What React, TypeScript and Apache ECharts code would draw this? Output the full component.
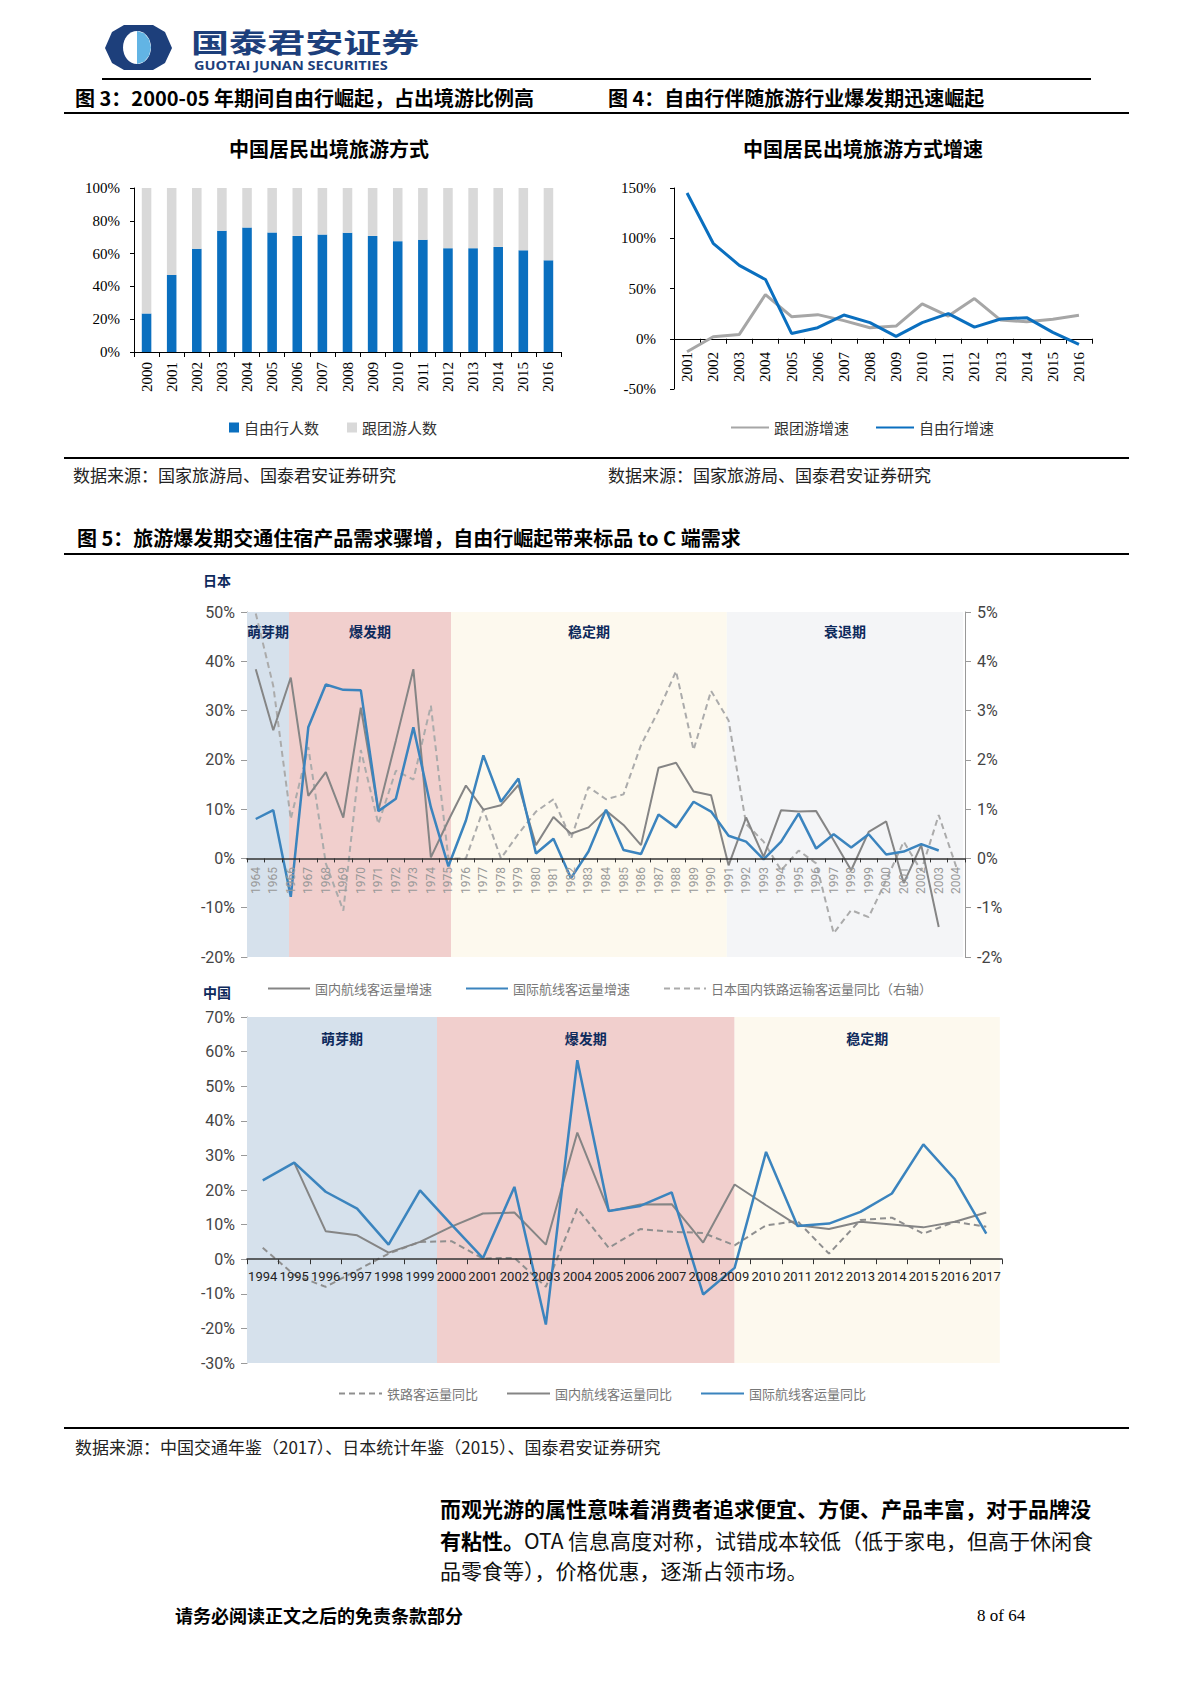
import React, { useEffect, useRef } from 'react';
import * as echarts from 'echarts';

// ---------- Figure 3 ----------
const fig3Years = ['2000','2001','2002','2003','2004','2005','2006','2007','2008','2009','2010','2011','2012','2013','2014','2015','2016'];
const fig3Free = [23.5, 47.0, 62.9, 73.9, 75.9, 72.9, 70.8, 71.6, 72.7, 70.8, 67.6, 68.4, 63.3, 63.3, 64.1, 62.0, 55.9];
const fig3Group = [76.5, 53.0, 37.1, 26.1, 24.1, 27.1, 29.2, 28.4, 27.3, 29.2, 32.4, 31.6, 36.7, 36.7, 35.9, 38.0, 44.1];

// ---------- Figure 4 ----------
const fig4Years = ['2001','2002','2003','2004','2005','2006','2007','2008','2009','2010','2011','2012','2013','2014','2015','2016'];
const fig4Group = [-13, 2, 4.3, 44, 22, 24, 18, 11, 12.6, 34.6, 22.6, 40, 18.6, 17, 19.3, 23.3];
const fig4Free = [145, 95, 73, 59, 5.3, 11, 23.6, 16, 2.3, 16, 25, 11.6, 19.6, 21, 6.3, -5.7];

// ---------- Figure 5: Japan ----------
const jpYears = ['1964','1965','1966','1967','1968','1969','1970','1971','1972','1973','1974','1975','1976','1977','1978','1979','1980','1981','1982','1983','1984','1985','1986','1987','1988','1989','1990','1991','1992','1993','1994','1995','1996','1997','1998','1999','2000','2001','2002','2003','2004'];
const jpDomestic = [38.4, 26.0, 36.7, 12.7, 17.5, 8.3, 30.6, 9.7, 23.9, 38.4, 0.2, 7.7, 14.8, 9.9, 10.8, 14.9, 2.7, 8.4, 5.0, 6.3, 9.7, 6.8, 2.7, 18.4, 19.4, 13.6, 12.8, -1.4, 8.3, 0.3, 9.8, 9.5, 9.6, 3.7, -2.4, 5.4, 7.5, -5.0, 2.7, -13.9, null];
const jpIntl = [8.0, 9.8, -7.8, 26.6, 35.3, 34.2, 34.1, 9.6, 12.1, 26.6, 10.4, -1.6, 7.7, 20.9, 11.5, 16.2, 1.0, 4.0, -4.0, 1.4, 9.9, 1.7, 0.9, 8.9, 6.3, 11.5, 9.5, 4.6, 3.4, -0.2, 3.4, 9.1, 2.0, 4.9, 2.2, 4.9, 0.8, 1.4, 2.9, 1.6, null];
const jpRail = [4.97, 3.5, 0.8, 2.26, -0.1, -1.06, 2.2, 0.7, 1.78, 1.6, 3.1, 0.0, 0.0, 1.0, 0.0, 0.5, 0.95, 1.2, 0.4, 1.45, 1.2, 1.3, 2.3, 3.0, 3.8, 2.2, 3.4, 2.8, 0.7, 0.34, -0.24, 0.16, -0.1, -1.52, -1.05, -1.19, -0.44, 0.34, -0.25, 0.88, -0.17];
const jpPhaseNames = ['萌芽期', '爆发期', '稳定期', '衰退期'];
const jpPhaseEdges = [0, 2.4, 11.65, 27.4, 40.9];

// ---------- Figure 5: China ----------
const cnYears = ['1994','1995','1996','1997','1998','1999','2000','2001','2002','2003','2004','2005','2006','2007','2008','2009','2010','2011','2012','2013','2014','2015','2016','2017'];
const cnRail = [3.3, -4.5, -8.0, -3.2, 1.6, 5.0, 5.2, 0.2, 0.4, -8.0, 14.7, 3.3, 8.7, 7.9, 7.6, 4.0, 9.8, 11.0, 1.6, 11.3, 12.0, 7.4, 10.8, 9.4];
const cnDomestic = [null, 27.9, 8.1, 6.9, 1.9, 5.0, 9.4, 13.2, 13.5, 4.2, 36.6, 13.9, 15.8, 15.9, 4.8, 21.6, 15.6, 9.8, 8.7, 10.8, 10.0, 9.2, 10.8, 13.5];
const cnIntl = [22.8, 27.9, 19.5, 14.6, 4.2, 19.9, 10.0, 0.3, 20.9, -18.9, 57.5, 13.9, 15.4, 19.3, -10.2, -2.5, 31.0, 9.6, 10.3, 13.7, 19.0, 33.2, 23.1, 7.4];
const cnPhaseNames = ['萌芽期', '爆发期', '稳定期'];
const cnPhaseEdges = [0, 6.04, 15.5, 23.93];

const phaseColors: Record<string, string> = {
  '萌芽期': '#D6E1EC',
  '爆发期': '#F1CFCD',
  '稳定期': '#FDF9EE',
  '衰退期': '#F4F5F7',
};

const CJK = 'Noto Sans CJK SC';
const SERIF = 'Liberation Serif';
const SANS = 'Roboto';
const NAVY = '#0E2A5C';
const BLUE = '#3B84BE';

function phaseAreas(names: string[], edges: number[], distance: number) {
  return {
    silent: true,
    label: { show: true, position: 'insideTop', distance, color: NAVY, fontWeight: 'bold', fontSize: 14, fontFamily: CJK },
    data: names.map((n, i) => [
      { name: n, xAxis: edges[i], itemStyle: { color: phaseColors[n] } },
      { xAxis: edges[i + 1] },
    ]),
  };
}

function txt(x: number, y: number, text: string, size: number, opts: any = {}) {
  return {
    type: 'text',
    x,
    y,
    scaleX: opts.scaleX || 1,
    style: {
      text,
      fontSize: size,
      fontFamily: opts.family || CJK,
      fontWeight: opts.bold ? 'bold' : 'normal',
      fill: opts.color || '#000',
      textAlign: opts.align || 'left',
      textVerticalAlign: 'middle',
    },
  };
}

function hline(x1: number, x2: number, y: number, w = 2) {
  return { type: 'line', shape: { x1, y1: y, x2, y2: y }, style: { stroke: '#000', lineWidth: w } };
}

const catAxisBase = {
  type: 'category',
  boundaryGap: true,
  axisLine: { show: true, lineStyle: { color: '#000', width: 1 } },
  axisTick: { show: true, interval: 0, length: 5, lineStyle: { color: '#000' } },
  splitLine: { show: false },
};

const lineLegendBase = {
  padding: 0,
  selectedMode: false,
  itemStyle: { opacity: 0, borderWidth: 0 },
};

const option: any = {
  animation: false,
  backgroundColor: '#ffffff',
  textStyle: { fontFamily: CJK },
  grid: [
    { left: 134, top: 188, width: 427, height: 164 },
    { left: 674, top: 188, width: 418, height: 201 },
    { left: 247, top: 612, width: 718, height: 345 },
    { left: 247, top: 1017, width: 755, height: 346 },
  ],
  legend: [
    {
      data: ['自由行人数', '跟团游人数'], left: 229, top: 420, padding: 0, icon: 'rect',
      itemWidth: 10, itemHeight: 10, itemGap: 28, selectedMode: false,
      textStyle: { fontSize: 15, color: '#333', fontFamily: CJK },
    },
    {
      ...lineLegendBase,
      data: ['跟团游增速', '自由行增速'], left: 730, top: 420,
      itemWidth: 38, itemHeight: 14, itemGap: 26,
      textStyle: { fontSize: 15, color: '#333', fontFamily: CJK },
    },
    {
      ...lineLegendBase,
      data: ['国内航线客运量增速', '国际航线客运量增速', '日本国内铁路运输客运量同比（右轴）'], left: 267, top: 982,
      itemWidth: 42, itemHeight: 12, itemGap: 33,
      textStyle: { fontSize: 13, color: '#777', fontFamily: CJK },
    },
    {
      ...lineLegendBase,
      data: ['铁路客运量同比', '国内航线客运量同比', '国际航线客运量同比'], left: 338, top: 1387,
      itemWidth: 43, itemHeight: 12, itemGap: 28,
      textStyle: { fontSize: 13, color: '#777', fontFamily: CJK },
    },
  ],
  xAxis: [
    {
      ...catAxisBase, gridIndex: 0, data: fig3Years,
      axisLabel: { interval: 0, rotate: 90, margin: 10, fontSize: 15, fontFamily: SERIF, color: '#000' },
    },
    {
      ...catAxisBase, gridIndex: 1, data: fig4Years,
      axisLine: { show: true, onZero: true, lineStyle: { color: '#000', width: 1 } },
      axisLabel: { interval: 0, rotate: 90, margin: -37, fontSize: 15, fontFamily: SERIF, color: '#000' },
    },
    {
      ...catAxisBase, gridIndex: 2, data: jpYears, z: 10,
      axisLine: { show: true, onZero: true, lineStyle: { color: '#333', width: 1.5 } },
      axisTick: { show: true, interval: 0, length: 4, lineStyle: { color: '#333' } },
      axisLabel: { interval: 0, rotate: 90, margin: -90, fontSize: 12, fontFamily: SANS, color: '#999' },
    },
    { type: 'value', gridIndex: 2, min: 0, max: jpYears.length, show: false },
    {
      ...catAxisBase, gridIndex: 3, data: cnYears, z: 10,
      axisLine: { show: true, onZero: true, lineStyle: { color: '#333', width: 1.5 } },
      axisTick: { show: true, interval: 0, length: 5, lineStyle: { color: '#333' } },
      axisLabel: { interval: 0, margin: -93, fontSize: 13, fontFamily: SANS, color: '#222' },
    },
    { type: 'value', gridIndex: 3, min: 0, max: cnYears.length, show: false },
  ],
  yAxis: [
    {
      type: 'value', gridIndex: 0, min: 0, max: 100, interval: 20,
      axisLine: { show: true, onZero: false, lineStyle: { color: '#000' } },
      axisTick: { show: true, length: 4, lineStyle: { color: '#000' } },
      splitLine: { show: false },
      axisLabel: { formatter: '{value}%', fontSize: 15, fontFamily: SERIF, color: '#000', margin: 14 },
    },
    {
      type: 'value', gridIndex: 1, min: -50, max: 150, interval: 50,
      axisLine: { show: true, onZero: false, lineStyle: { color: '#000' } },
      axisTick: { show: true, length: 4, lineStyle: { color: '#000' } },
      splitLine: { show: false },
      axisLabel: { formatter: '{value}%', fontSize: 15, fontFamily: SERIF, color: '#000', margin: 18 },
    },
    {
      type: 'value', gridIndex: 2, position: 'left', min: -20, max: 50, interval: 10,
      axisLine: { show: true, onZero: false, lineStyle: { color: '#999' } },
      axisTick: { show: true, length: 6, lineStyle: { color: '#999' } },
      splitLine: { show: false },
      axisLabel: { formatter: '{value}%', fontSize: 16, fontFamily: SANS, color: '#444', margin: 12 },
    },
    {
      type: 'value', gridIndex: 2, position: 'right', min: -2, max: 5, interval: 1,
      axisLine: { show: true, onZero: false, lineStyle: { color: '#999' } },
      axisTick: { show: true, length: 6, lineStyle: { color: '#999' } },
      splitLine: { show: false },
      axisLabel: { formatter: '{value}%', fontSize: 16, fontFamily: SANS, color: '#444', margin: 12 },
    },
    {
      type: 'value', gridIndex: 3, min: -30, max: 70, interval: 10,
      axisLine: { show: true, onZero: false, lineStyle: { color: '#999' } },
      axisTick: { show: true, length: 6, lineStyle: { color: '#999' } },
      splitLine: { show: false },
      axisLabel: { formatter: '{value}%', fontSize: 16, fontFamily: SANS, color: '#444', margin: 12 },
    },
  ],
  series: [
    {
      name: '自由行人数', type: 'bar', stack: 'fig3', xAxisIndex: 0, yAxisIndex: 0, data: fig3Free,
      barWidth: '38%', itemStyle: { color: '#0A6FBF' },
    },
    {
      name: '跟团游人数', type: 'bar', stack: 'fig3', xAxisIndex: 0, yAxisIndex: 0, data: fig3Group,
      barWidth: '38%', itemStyle: { color: '#D9D9D9' },
    },
    {
      name: '跟团游增速', type: 'line', xAxisIndex: 1, yAxisIndex: 1, data: fig4Group, symbol: 'none',
      lineStyle: { color: '#A6A6A6', width: 3 }, itemStyle: { color: '#A6A6A6' },
    },
    {
      name: '自由行增速', type: 'line', xAxisIndex: 1, yAxisIndex: 1, data: fig4Free, symbol: 'none',
      lineStyle: { color: '#0A6FBF', width: 3 }, itemStyle: { color: '#0A6FBF' },
    },
    {
      type: 'line', xAxisIndex: 3, yAxisIndex: 2, data: [], z: 1, silent: true,
      markArea: phaseAreas(jpPhaseNames, jpPhaseEdges, 12),
    },
    {
      name: '国内航线客运量增速', type: 'line', xAxisIndex: 2, yAxisIndex: 2, data: jpDomestic, symbol: 'none', z: 3,
      lineStyle: { color: '#858585', width: 2 }, itemStyle: { color: '#858585' },
    },
    {
      name: '国际航线客运量增速', type: 'line', xAxisIndex: 2, yAxisIndex: 2, data: jpIntl, symbol: 'none', z: 4,
      lineStyle: { color: BLUE, width: 2.5 }, itemStyle: { color: BLUE },
    },
    {
      name: '日本国内铁路运输客运量同比（右轴）', type: 'line', xAxisIndex: 2, yAxisIndex: 3, data: jpRail, symbol: 'none', z: 2,
      lineStyle: { color: '#ABABAB', width: 2, type: [6, 4] }, itemStyle: { color: '#ABABAB' },
    },
    {
      type: 'line', xAxisIndex: 5, yAxisIndex: 4, data: [], z: 1, silent: true,
      markArea: phaseAreas(cnPhaseNames, cnPhaseEdges, 14),
    },
    {
      name: '铁路客运量同比', type: 'line', xAxisIndex: 4, yAxisIndex: 4, data: cnRail, symbol: 'none', z: 2,
      lineStyle: { color: '#8F8F8F', width: 2, type: [6, 4] }, itemStyle: { color: '#8F8F8F' },
    },
    {
      name: '国内航线客运量同比', type: 'line', xAxisIndex: 4, yAxisIndex: 4, data: cnDomestic, symbol: 'none', z: 3,
      lineStyle: { color: '#858585', width: 2 }, itemStyle: { color: '#858585' },
    },
    {
      name: '国际航线客运量同比', type: 'line', xAxisIndex: 4, yAxisIndex: 4, data: cnIntl, symbol: 'none', z: 4,
      lineStyle: { color: BLUE, width: 2.5 }, itemStyle: { color: BLUE },
    },
  ],
  graphic: {
    elements: [
      // logo
      {
        type: 'polygon',
        shape: { points: [[105, 48], [112, 32], [124, 25], [153, 25], [165, 32], [172, 48], [165, 63], [153, 70], [124, 70], [112, 63]] },
        style: { fill: '#1D3F7B' },
      },
      { type: 'ellipse', shape: { cx: 137, cy: 47.5, rx: 14, ry: 16.5 }, style: { fill: '#ffffff' } },
      {
        type: 'polygon',
        shape: { points: [[137, 31], [144, 33.2], [149, 39.2], [151, 47.5], [149, 55.8], [144, 61.8], [137, 64]] },
        style: { fill: '#62B4E4' },
      },
      txt(191, 42, '国泰君安证券', 27, { bold: true, color: '#1D3F7B', scaleX: 1.41 }),
      txt(194, 65, 'GUOTAI JUNAN SECURITIES', 13, { bold: true, color: '#1D3F7B', family: 'Open Sans', scaleX: 1.12 }),
      hline(102, 1091, 79),
      // figure titles
      txt(75, 97, '图 3：2000-05 年期间自由行崛起，占出境游比例高', 20, { bold: true }),
      txt(608, 97, '图 4：自由行伴随旅游行业爆发期迅速崛起', 20, { bold: true }),
      hline(64, 1129, 113),
      txt(329, 148, '中国居民出境旅游方式', 20, { bold: true, align: 'center' }),
      txt(863, 148, '中国居民出境旅游方式增速', 20, { bold: true, align: 'center' }),
      hline(64, 1129, 458),
      txt(73, 474, '数据来源：国家旅游局、国泰君安证券研究', 17, { color: '#222' }),
      txt(608, 474, '数据来源：国家旅游局、国泰君安证券研究', 17, { color: '#222' }),
      txt(77, 537, '图 5：旅游爆发期交通住宿产品需求骤增，自由行崛起带来标品 to C 端需求', 20, { bold: true }),
      hline(64, 1129, 554),
      txt(203, 580, '日本', 14, { bold: true, color: NAVY }),
      txt(203, 992, '中国', 14, { bold: true, color: NAVY }),
      hline(64, 1129, 1428),
      txt(75, 1446, '数据来源：中国交通年鉴（2017）、日本统计年鉴（2015）、国泰君安证券研究', 17, { color: '#222' }),
      txt(440, 1508, '而观光游的属性意味着消费者追求便宜、方便、产品丰富，对于品牌没', 21, { bold: true }),
      txt(440, 1540, '有粘性。', 21, { bold: true }),
      txt(524, 1540, 'OTA 信息高度对称，试错成本较低（低于家电，但高于休闲食', 21, { color: '#111' }),
      txt(440, 1570, '品零食等），价格优惠，逐渐占领市场。', 21, { color: '#111' }),
      txt(175, 1615, '请务必阅读正文之后的免责条款部分', 18, { bold: true }),
      txt(977, 1615, '8 of 64', 17, { family: SERIF }),
    ],
  },
};

export default function App() {
  const ref = useRef<HTMLDivElement>(null);
  useEffect(() => {
    if (!ref.current) return;
    const chart = echarts.init(ref.current, null, { renderer: 'svg' });
    chart.setOption(option);
    return () => chart.dispose();
  }, []);
  return (
    <div
      ref={ref}
      style={{ position: 'absolute', left: 0, top: 0, width: 1190, height: 1683, background: '#ffffff' }}
    />
  );
}
